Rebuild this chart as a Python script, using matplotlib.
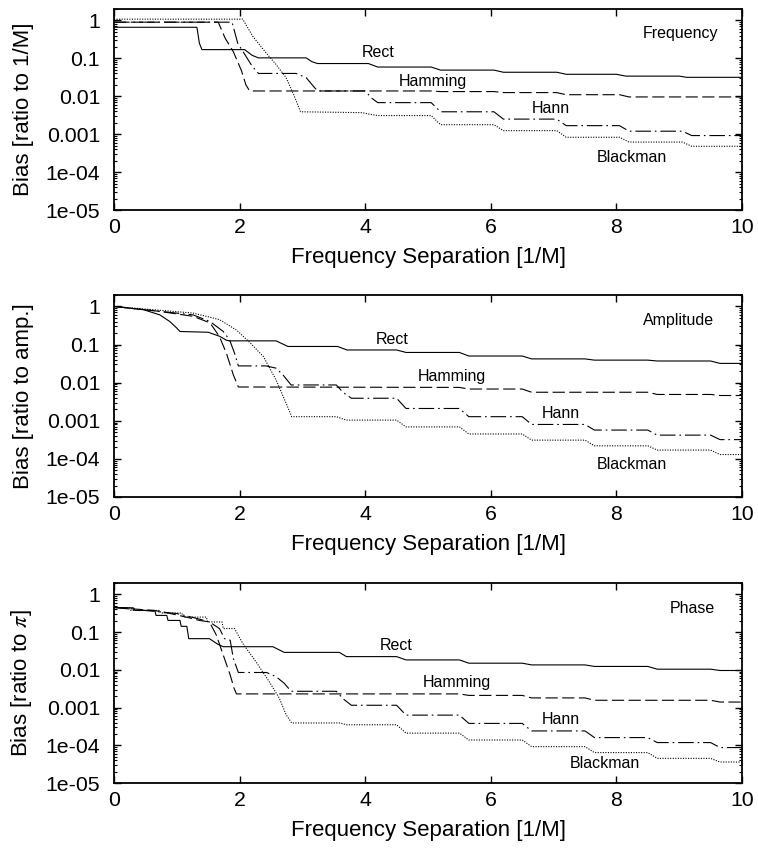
import matplotlib
matplotlib.use('Agg')
import matplotlib.pyplot as plt
from matplotlib.ticker import FixedLocator, LogLocator, NullFormatter

plt.rcParams['font.family'] = ['Liberation Sans', 'DejaVu Sans']
plt.rcParams['mathtext.fontset'] = 'stix'

# ---- Frequency bias ----
freq_rect_x = [0, 1.32, 1.36, 1.40, 2.08, 2.2, 2.3, 3.06, 3.15, 3.24, 4.05, 4.2, 5.05, 5.2,
               6.05, 6.2, 7.05, 7.2, 8.0, 8.15, 9.0, 9.12, 10]
freq_rect_y = [0.66, 0.66, 0.25, 0.17, 0.17, 0.12, 0.103, 0.103, 0.082, 0.073, 0.073, 0.059,
               0.059, 0.049, 0.049, 0.043, 0.043, 0.038, 0.038, 0.034, 0.034, 0.0316, 0.0316]
freq_hamm_x = [0, 1.66, 1.77, 1.9, 2.03, 2.1, 2.16, 5.05, 5.2, 6.05, 6.2, 7.05, 7.2, 8.05, 8.2, 10]
freq_hamm_y = [0.9, 0.9, 0.34, 0.15, 0.047, 0.02, 0.0138, 0.0138, 0.0133, 0.0133, 0.0125,
               0.0125, 0.011, 0.011, 0.0096, 0.0096]
freq_hann_x = [0, 1.88, 1.97, 2.1, 2.2, 2.3, 2.9, 3.06, 3.17, 3.24, 4.0, 4.1, 4.2, 5.05, 5.2,
               6.05, 6.2, 7.05, 7.2, 8.05, 8.2, 9.05, 9.2, 10]
freq_hann_y = [0.9, 0.9, 0.25, 0.114, 0.062, 0.040, 0.040, 0.031, 0.0188, 0.0138, 0.0138, 0.009,
               0.0068, 0.0068, 0.0039, 0.0039, 0.0025, 0.0025, 0.00168, 0.00168, 0.0012, 0.0012,
               0.00092, 0.00092]
freq_black_x = [0, 2.05, 2.21, 2.42, 2.58, 2.74, 2.87, 2.97, 3.95, 4.1, 4.2, 5.05, 5.2, 6.05,
                6.2, 7.05, 7.2, 8.05, 8.2, 9.05, 9.2, 10]
freq_black_y = [1.08, 1.08, 0.38, 0.14, 0.069, 0.031, 0.0102, 0.0039, 0.0037, 0.0033, 0.0031,
                0.0031, 0.00178, 0.00178, 0.00124, 0.00124, 0.00083, 0.00083, 0.00062, 0.00062,
                0.00048, 0.00048]

# ---- Amplitude bias ----
amp_rect_x = [0, 0.47, 0.73, 0.89, 1.0, 1.05, 1.5, 1.68, 1.79, 1.84, 2.58, 2.77, 3.56, 3.71,
              4.5, 4.65, 5.5, 5.65, 6.5, 6.65, 7.5, 7.65, 8.5, 8.65, 9.5, 9.65, 10]
amp_rect_y = [1.0, 0.82, 0.60, 0.40, 0.27, 0.22, 0.21, 0.165, 0.13, 0.125, 0.125, 0.089, 0.089,
              0.072, 0.072, 0.062, 0.062, 0.050, 0.050, 0.042, 0.042, 0.039, 0.039, 0.037,
              0.037, 0.032, 0.032]
amp_hamm_x = [0, 0.73, 1.26, 1.53, 1.68, 1.79, 1.9, 1.98, 5.5, 5.65, 6.5, 6.65, 8.5, 8.65,
              9.5, 9.65, 10]
amp_hamm_y = [1.0, 0.74, 0.55, 0.37, 0.16, 0.059, 0.016, 0.0077, 0.0075, 0.0068, 0.0068,
              0.0056, 0.0056, 0.0049, 0.0049, 0.0046, 0.0046]
amp_hann_x = [0, 1.26, 1.53, 1.74, 1.84, 1.92, 1.98, 2.42, 2.58, 2.69, 2.82, 3.54, 3.65, 3.78,
              4.5, 4.65, 5.5, 5.65, 6.5, 6.65, 7.5, 7.65, 8.5, 8.65, 9.5, 9.65, 10]
amp_hann_y = [1.0, 0.60, 0.40, 0.22, 0.133, 0.059, 0.0275, 0.0275, 0.024, 0.016, 0.0087,
              0.0087, 0.0055, 0.0039, 0.0039, 0.0021, 0.0021, 0.00128, 0.00128, 0.0008,
              0.0008, 0.00057, 0.00057, 0.00042, 0.00042, 0.00032, 0.00032]
amp_black_x = [0, 1.26, 1.68, 1.95, 2.17, 2.38, 2.58, 2.74, 2.83, 3.54, 3.7, 4.5, 4.65, 5.5,
               5.65, 6.5, 6.65, 7.5, 7.65, 8.5, 8.65, 9.5, 9.65, 10]
amp_black_y = [1.0, 0.67, 0.45, 0.24, 0.11, 0.048, 0.0118, 0.0029, 0.00128, 0.00128, 0.00104,
               0.00104, 0.00069, 0.00069, 0.00045, 0.00045, 0.00031, 0.00031, 0.00022,
               0.00022, 0.00017, 0.00017, 0.00013, 0.00013]

# ---- Phase bias ----
ph_rect_x = [0, 0.31, 0.33, 0.65, 0.67, 0.84, 0.86, 1.05, 1.07, 1.16, 1.19, 1.52, 1.65, 1.74,
             2.53, 2.71, 3.59, 3.7, 4.5, 4.65, 5.5, 5.65, 6.5, 6.65, 7.5, 7.65, 8.5, 8.65,
             9.5, 9.65, 10]
ph_rect_y = [0.45, 0.44, 0.375, 0.375, 0.277, 0.277, 0.204, 0.204, 0.142, 0.142, 0.067, 0.067,
             0.048, 0.041, 0.041, 0.029, 0.029, 0.0224, 0.0224, 0.0183, 0.0183, 0.015, 0.015,
             0.0135, 0.0135, 0.0123, 0.0123, 0.0104, 0.0104, 0.0096, 0.0096]
ph_hamm_x = [0, 0.63, 0.79, 1.15, 1.36, 1.52, 1.63, 1.74, 1.85, 1.91, 1.95, 5.5, 5.65, 6.5,
             6.65, 7.5, 7.65, 9.5, 9.65, 10]
ph_hamm_y = [0.45, 0.375, 0.34, 0.25, 0.204, 0.186, 0.083, 0.0245, 0.0073, 0.0033, 0.0023,
             0.0023, 0.0021, 0.0021, 0.0018, 0.0018, 0.00156, 0.00156, 0.0014, 0.0014]
ph_hann_x = [0, 1.0, 1.32, 1.52, 1.68, 1.76, 1.85, 1.9, 1.98, 2.43, 2.58, 2.71, 2.82, 3.54,
             3.65, 3.78, 4.5, 4.65, 5.5, 5.65, 6.5, 6.65, 7.5, 7.65, 8.5, 8.65, 9.5, 9.65, 10]
ph_hann_y = [0.45, 0.31, 0.23, 0.186, 0.124, 0.067, 0.061, 0.020, 0.0085, 0.0085, 0.0066,
             0.0044, 0.0027, 0.0027, 0.0017, 0.00115, 0.00115, 0.00063, 0.00063, 0.00038,
             0.00038, 0.00024, 0.00024, 0.00016, 0.00016, 0.000118, 0.000118, 0.000087,
             0.000087]
ph_black_x = [0, 0.25, 0.27, 0.73, 0.75, 1.08, 1.10, 1.47, 1.49, 1.72, 1.74, 1.92, 2.05, 2.26,
              2.47, 2.63, 2.74, 2.83, 3.6, 3.7, 4.5, 4.65, 5.5, 5.65, 6.5, 6.65, 7.5, 7.65,
              8.5, 8.65, 9.5, 9.65, 10]
ph_black_y = [0.45, 0.44, 0.375, 0.375, 0.32, 0.32, 0.25, 0.25, 0.186, 0.186, 0.124, 0.124,
              0.050, 0.0164, 0.0049, 0.0018, 0.00065, 0.00039, 0.00039, 0.00035, 0.00035,
              0.00021, 0.00021, 0.000138, 0.000138, 0.000092, 0.000092, 0.000064, 0.000064,
              0.000045, 0.000045, 0.000036, 0.000036]

window_names = ['Rect', 'Hamming', 'Hann', 'Blackman']
y_ticks = [1e-5, 1e-4, 1e-3, 1e-2, 1e-1, 1]
y_tick_labels = ['1e-05', '1e-04', '0.001', '0.01', '0.1', '1']
x_ticks = [0, 2, 4, 6, 8, 10]

panels = [
    {
        'title': 'Frequency', 'ylabel': 'Bias [ratio to 1/M]',
        'curves': [(freq_rect_x, freq_rect_y), (freq_hamm_x, freq_hamm_y),
                   (freq_hann_x, freq_hann_y), (freq_black_x, freq_black_y)],
        'label_pos': [(4.2, 0.14), (5.08, 0.025), (6.96, 0.0049), (8.25, 2.5e-4)],
        'title_pos': (9.62, 0.44),
    },
    {
        'title': 'Amplitude', 'ylabel': 'Bias [ratio to amp.]',
        'curves': [(amp_rect_x, amp_rect_y), (amp_hamm_x, amp_hamm_y),
                   (amp_hann_x, amp_hann_y), (amp_black_x, amp_black_y)],
        'label_pos': [(4.43, 0.138), (5.38, 0.0144), (7.12, 0.00156), (8.25, 7.2e-5)],
        'title_pos': (9.55, 0.43),
    },
    {
        'title': 'Phase', 'ylabel': r'Bias [ratio to $\pi$]',
        'curves': [(ph_rect_x, ph_rect_y), (ph_hamm_x, ph_hamm_y),
                   (ph_hann_x, ph_hann_y), (ph_black_x, ph_black_y)],
        'label_pos': [(4.5, 0.044), (5.46, 0.0046), (7.12, 4.8e-4), (7.81, 3.2e-5)],
        'title_pos': (9.57, 0.42),
    },
]

styles = [
    {'linestyle': '-'},
    {'linestyle': (0, (11, 4))},
    {'linestyle': (0, (14, 3.5, 1.5, 3.5))},
    {'linestyle': (0, (1, 1.3))},
]

axes_rects = [
    [0.1504, 0.7532, 0.8285, 0.2362],
    [0.1504, 0.4160, 0.8285, 0.2374],
    [0.1504, 0.0799, 0.8285, 0.2350],
]

fig = plt.figure(figsize=(7.58, 8.51), dpi=100)

for rect, panel in zip(axes_rects, panels):
    ax = fig.add_axes(rect)
    ax.set_yscale('log')
    for (xs, ys), st in zip(panel['curves'], styles):
        ax.plot(xs, ys, color='black', linewidth=0.8, **st)

    for name, (lx, ly) in zip(window_names, panel['label_pos']):
        ax.text(lx, ly, name, fontsize=11.5, ha='center', va='center')
    tx, ty = panel['title_pos']
    ax.text(tx, ty, panel['title'], fontsize=11.5, ha='right', va='center')

    ax.set_xlim(0, 10)
    ax.set_ylim(1e-5, 2)
    ax.xaxis.set_major_locator(FixedLocator(x_ticks))
    ax.yaxis.set_major_locator(FixedLocator(y_ticks))
    ax.set_yticklabels(y_tick_labels)
    ax.yaxis.set_minor_locator(LogLocator(base=10, subs=range(2, 10), numticks=20))
    ax.yaxis.set_minor_formatter(NullFormatter())
    ax.tick_params(which='both', direction='in', top=True, right=True, labelsize=15.3)
    ax.tick_params(which='major', length=5, width=1)
    ax.tick_params(which='minor', length=2.5, width=0.8)
    ax.tick_params(axis='x', pad=6)
    ax.tick_params(axis='y', pad=10)
    for sp in ax.spines.values():
        sp.set_linewidth(1.3)

    ax.set_xlabel('Frequency Separation [1/M]', fontsize=16)
    ax.set_ylabel(panel['ylabel'], fontsize=16)
    ax.xaxis.set_label_coords(0.5, -0.185)
    ax.yaxis.set_label_coords(-0.128, 0.5)

fig.savefig('out.png', dpi=100)
